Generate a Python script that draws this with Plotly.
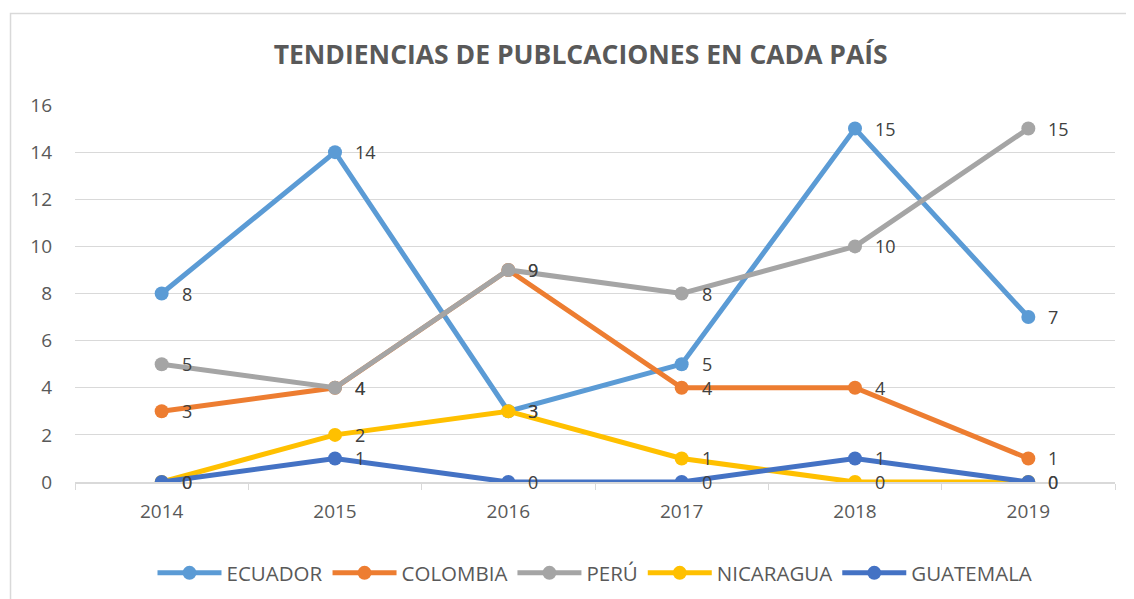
import plotly.graph_objects as go

years = ["2014", "2015", "2016", "2017", "2018", "2019"]
series_names = ["ECUADOR", "COLOMBIA", "PERÚ", "NICARAGUA", "GUATEMALA"]
ecuador = [8, 14, 3, 5, 15, 7]
colombia = [3, 4, 9, 4, 4, 1]
peru = [5, 4, 9, 8, 10, 15]
nicaragua = [0, 2, 3, 1, 0, 0]
guatemala = [0, 1, 0, 0, 1, 0]
colors = ["#5B9BD5", "#ED7D31", "#A5A5A5", "#FFC000", "#4472C4"]

values = [ecuador, colombia, peru, nicaragua, guatemala]
FONT = "'Open Sans', sans-serif"

fig = go.Figure()
annotations = []
for name, vals, col in zip(series_names, values, colors):
    fig.add_trace(go.Scatter(
        x=years, y=vals, name=name, mode="lines+markers",
        line=dict(color=col, width=5),
        marker=dict(color=col, size=14),
    ))
    for i, yv in enumerate(vals):
        annotations.append(dict(
            x=i, y=yv, xref="x", yref="y", text=str(yv), showarrow=False,
            xanchor="left", yanchor="middle", xshift=18,
            font=dict(family=FONT, size=18, color="#404040"),
        ))

fig.update_layout(
    width=1134, height=599,
    margin=dict(l=67, r=27, t=97, b=125, autoexpand=False),
    paper_bgcolor="white", plot_bgcolor="white",
    title=dict(text="<b>TENDIENCIAS DE PUBLCACIONES EN CADA PAÍS</b>",
               x=0.505, xanchor="center", y=1 - 47 / 599, yanchor="middle",
               font=dict(family=FONT, size=26.5, color="#595959")),
    font=dict(family=FONT, color="#595959"),
    showlegend=True,
    legend=dict(orientation="h", x=0.5, xanchor="center", y=-0.2414, yanchor="middle",
                font=dict(family=FONT, size=20.5, color="#595959"),
                itemwidth=64, tracegroupgap=0, bgcolor="rgba(0,0,0,0)"),
    annotations=annotations,
    shapes=[dict(type="rect", xref="paper", yref="paper",
                 x0=-0.062, x1=1.03, y0=-0.4, y1=1.2427,
                 line=dict(color="#D9D9D9", width=1.5), fillcolor="rgba(0,0,0,0)", layer="below")],
)
fig.update_xaxes(type="category", range=[-0.5, 5.5], showgrid=False, automargin=False,
                 showline=True, linecolor="#D9D9D9", linewidth=1.5,
                 ticks="outside", tickson="boundaries", ticklen=6, tickcolor="#D9D9D9",
                 tickfont=dict(family=FONT, size=19, color="#595959"),
                 ticklabelstandoff=11)
fig.update_yaxes(range=[0, 16], dtick=2, showgrid=True, gridcolor="#D9D9D9", gridwidth=1,
                 zeroline=False, showline=False, ticks="", automargin=False,
                 tickfont=dict(family=FONT, size=19, color="#595959"),
                 ticklabelstandoff=22)

fig.write_html("out.html")
